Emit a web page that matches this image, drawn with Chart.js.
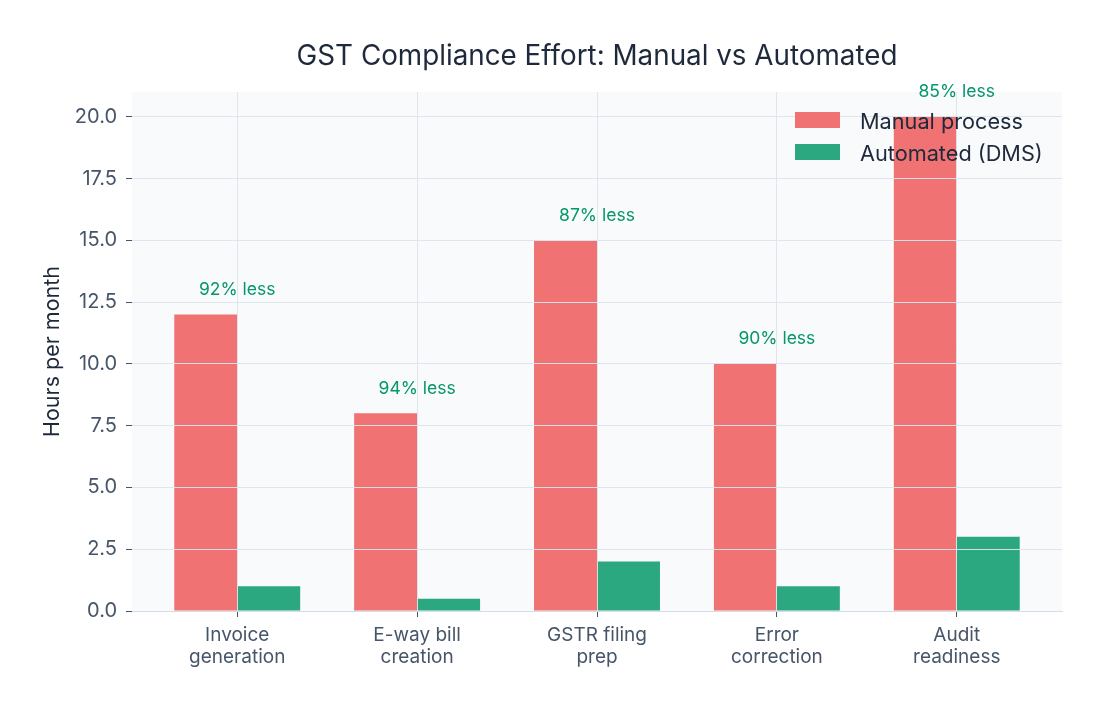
<!DOCTYPE html>
<html>
<head>
<meta charset="utf-8">
<title>GST Compliance Effort</title>
<script src="https://cdn.jsdelivr.net/npm/chart.js@4.4.1/dist/chart.umd.min.js"></script>
<style>
  body { margin: 0; background: #ffffff; }
  #wrap { width: 1107px; height: 712px; }
</style>
</head>
<body>
<div id="wrap"><canvas id="chartCanvas" width="1107" height="712"></canvas></div>
<script>
// Chart data
const chartTitle = "GST Compliance Effort: Manual vs Automated";
const categories = [
    ["Invoice", "generation"],
    ["E-way bill", "creation"],
    ["GSTR filing", "prep"],
    ["Error", "correction"],
    ["Audit", "readiness"]
];
const manualHours = [12, 8, 15, 10, 20];
const automatedHours = [1, 0.5, 2, 1, 3];
const yTicks = [0, 2.5, 5, 7.5, 10, 12.5, 15, 17.5, 20];
const seriesNames = ["Manual process", "Automated (DMS)"];

const FONT = "Inter, 'Noto Sans', sans-serif";
const INK = "#1e293b";
const MUTED = "#475569";

// points on a linear x axis so spacing matches the original
const toPoints = (vals) => vals.map((v, i) => ({ x: i, y: v }));

// title centred over the plot, not the whole canvas
const titlePlugin = {
    id: "plotTitle",
    afterDraw(chart) {
        const { ctx, chartArea } = chart;
        ctx.save();
        ctx.font = "27.8px " + FONT;
        ctx.fillStyle = INK;
        ctx.textAlign = "center";
        ctx.textBaseline = "alphabetic";
        ctx.fillText(chartTitle, (chartArea.left + chartArea.right) / 2, 65);
        ctx.restore();
    }
};

// "xx% less" above each manual bar
const savingsPlugin = {
    id: "savings",
    afterDatasetsDraw(chart) {
        const { ctx } = chart;
        const xs = chart.scales.x, ys = chart.scales.y;
        ctx.save();
        ctx.font = "17.5px " + FONT;
        ctx.fillStyle = "#059669";
        ctx.textAlign = "center";
        ctx.textBaseline = "alphabetic";
        manualHours.forEach((m, i) => {
            const pct = Math.round((1 - automatedHours[i] / m) * 100);
            ctx.fillText(pct + "% less", xs.getPixelForValue(i), ys.getPixelForValue(m + 0.8));
        });
        ctx.restore();
    }
};

// legend drawn inside the plot, top right, no frame
const legendPlugin = {
    id: "insideLegend",
    afterDraw(chart) {
        const { ctx, chartArea } = chart;
        ctx.save();
        ctx.font = "21.7px " + FONT;
        ctx.textAlign = "left";
        ctx.textBaseline = "alphabetic";
        chart.data.datasets.forEach((ds, i) => {
            const bx = chartArea.right - 267;
            const by = chartArea.top + 20 + i * 32;
            ctx.fillStyle = ds.backgroundColor;
            ctx.fillRect(bx, by, 45, 16);
            ctx.fillStyle = INK;
            ctx.fillText(ds.label, bx + 65, by + 17);
        });
        ctx.restore();
    }
};

let chart = new Chart(document.getElementById("chartCanvas"), {
    type: "bar",
    data: {
        datasets: [{
            label: seriesNames[0],
            data: toPoints(manualHours),
            backgroundColor: "#f07272",
            categoryPercentage: 0.7,
            barPercentage: 1.0
        }, {
            label: seriesNames[1],
            data: toPoints(automatedHours),
            backgroundColor: "#2ca880",
            categoryPercentage: 0.7,
            barPercentage: 1.0
        }]
    },
    options: {
        responsive: false,
        animation: false,
        layout: { padding: { top: 92, right: 45, left: 0, bottom: 0 } },
        plugins: {
            legend: { display: false },
            title: { display: false },
            tooltip: { enabled: false }
        },
        scales: {
            x: {
                type: "linear",
                min: -0.585,
                max: 4.585,
                offset: false,
                afterBuildTicks: (axis) => { axis.ticks = categories.map((_, i) => ({ value: i })); },
                afterFit: (axis) => { axis.height = 101; },
                ticks: {
                    autoSkip: false,
                    maxRotation: 0,
                    padding: 7,
                    color: MUTED,
                    font: { family: FONT, size: 19, lineHeight: 1.16 },
                    callback: (v) => categories[v]
                },
                grid: {
                    offset: false,
                    z: 1,
                    color: "rgba(220,228,238,0.95)",
                    tickColor: MUTED,
                    tickLength: 6
                },
                // drawn after the grid layer so its position is known
                border: { display: true, color: "#d5dce6", z: 2 }
            },
            y: {
                min: 0,
                max: 21,
                afterBuildTicks: (axis) => { axis.ticks = yTicks.map(v => ({ value: v })); },
                afterFit: (axis) => { axis.width = 132; },
                ticks: {
                    padding: 9,
                    color: MUTED,
                    font: { family: FONT, size: 20 },
                    callback: (v) => v.toFixed(1)
                },
                grid: {
                    z: 1,
                    color: "rgba(220,228,238,0.95)",
                    tickColor: MUTED,
                    tickLength: 6
                },
                border: { display: false },
                title: {
                    display: true,
                    text: "Hours per month",
                    color: INK,
                    font: { family: FONT, size: 21.5 },
                    padding: { top: 40, bottom: 0 }
                }
            }
        }
    },
    plugins: [{
        id: "plotBg",
        beforeDraw(c) {
            const { ctx, chartArea: a } = c;
            ctx.save();
            ctx.fillStyle = "#f8fafc";
            ctx.fillRect(a.left, a.top, a.right - a.left, a.bottom - a.top);
            ctx.restore();
        }
    }, titlePlugin, savingsPlugin, legendPlugin]
});
</script>
</body>
</html>
